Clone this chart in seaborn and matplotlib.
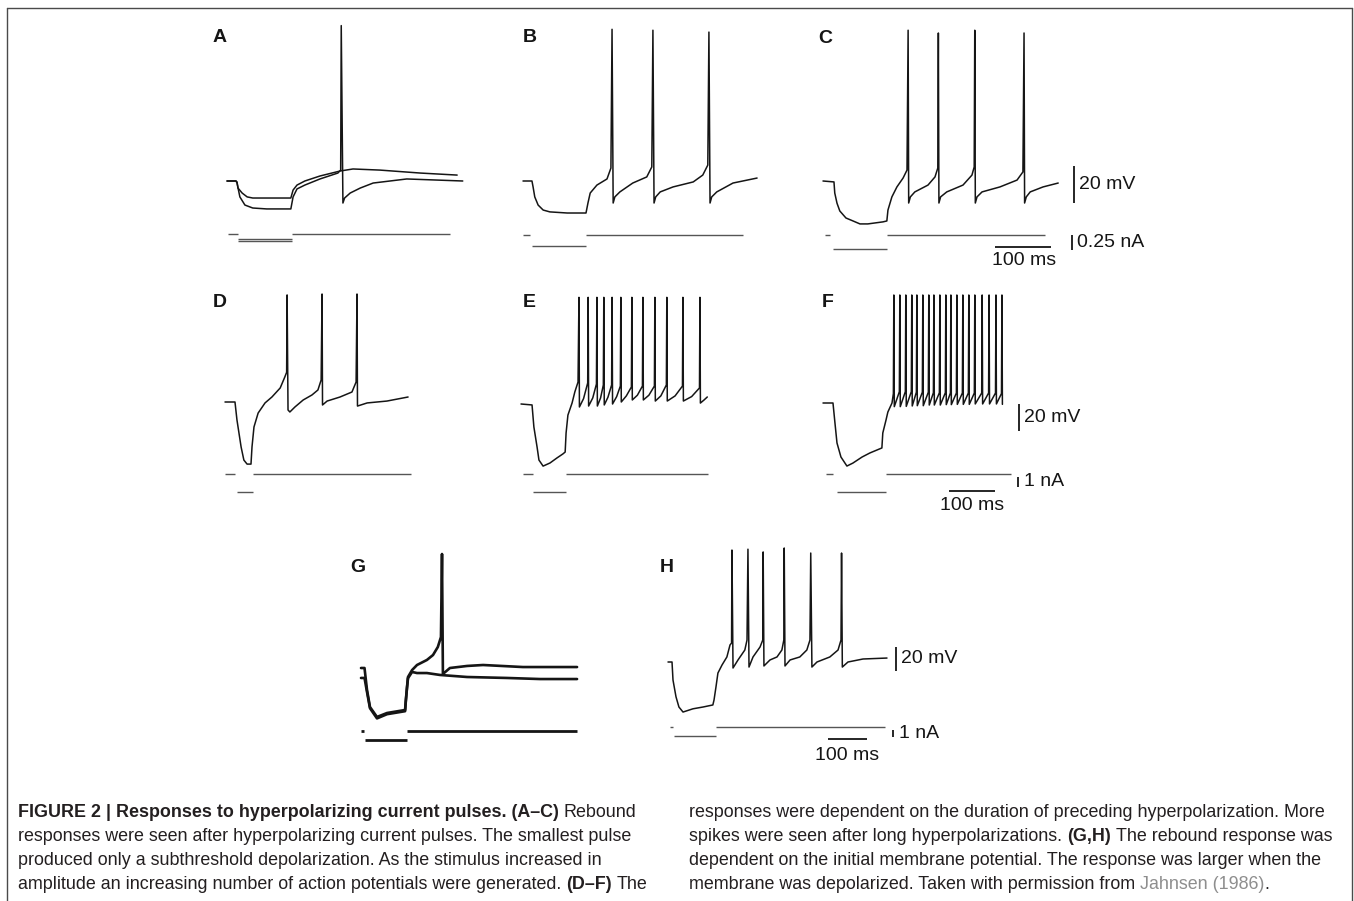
import matplotlib
matplotlib.use("Agg")
import matplotlib.pyplot as plt
from matplotlib.lines import Line2D
import seaborn as sns

# ---------------------------------------------------------------------------
# Recorded traces read off the figure.
# time in ms from the start of the sweep, voltage in mV relative to rest,
# current in nA relative to the holding level.
# ---------------------------------------------------------------------------
A1_T = [0, 16, 17.9, 19.6, 27, 36, 46, 114, 118, 125, 139, 166, 202, 225,
        273, 345, 411]
A1_V = [0, 0, -0.5, -3.8, -6.5, -8.6, -9.2, -9.2, -4.9, -2.2, 0, 2.7, 5.4,
        6.5, 5.9, 4.3, 3.2]
A2_T = [0, 16, 17.9, 23, 32, 46, 71, 114, 118, 125, 139, 166, 198, 203, 204,
        207, 210, 220, 238, 261, 321, 421]
A2_V = [0, 0, -1.1, -8.6, -13, -14.6, -15.1, -15.1, -8.6, -4.3, -2.2, 1.1,
        4.3, 5.9, 84, -11.9, -9.2, -6.5, -3.8, -1.1, 1.1, 0]

B_T = [0, 16, 18, 21, 27, 36, 48, 79, 112.5, 116, 120, 132, 150, 157, 159,
       161, 164, 173, 196, 221, 230, 232, 234, 237, 245, 268, 304, 321, 330,
       332, 334, 337, 346, 375, 418]
B_V = [0, 0, -3.2, -8.6, -13, -15.7, -16.7, -17.3, -17.3, -11.9, -6.5, -2.2,
       1.1, 7.0, 82, -11.9, -8.6, -5.9, -1.1, 2.2, 7.6, 81.5, -11.9, -8.6,
       -5.9, -3.2, -0.5, 3.2, 8.6, 80.5, -11.9, -8.6, -5.9, -1.1, 1.6]

C_T = [0, 19.6, 21, 25, 30, 41, 53.6, 66, 80, 107, 114, 116, 123, 132, 143,
       150, 152, 153, 156, 164, 187.5, 200, 205, 206, 207, 210, 221, 250, 266,
       270, 271, 272, 275, 284, 316, 346.5, 357, 359, 360, 363, 370, 393, 420]
C_V = [0, -0.5, -6.5, -12, -16.2, -20, -21.6, -23.2, -23.2, -22.1, -21.6,
       -15.7, -8.6, -3.2, 1.6, 5.9, 81.5, -11.9, -8.6, -5.9, -2.2, 2.2, 7, 80,
       -11.9, -8.6, -5.9, -2.2, 3.2, 7.6, 81.5, -11.9, -8.6, -5.9, -3.2, 0.5,
       4.9, 80, -11.9, -8.6, -5.9, -3.2, -1.1]

D_T = [0, 21.7, 26, 35, 41, 48, 56.5, 58.7, 63, 72, 87, 102, 120, 130, 134,
       135, 137, 141, 152, 170, 189, 202, 209, 211, 212, 222, 250, 276, 285,
       287, 288, 309, 352, 398]
D_V = [0, 0, -13.3, -33.3, -43, -46, -46, -33.3, -18.5, -8.2, -0.7, 3.7, 10.4,
       18.5, 22, 79.3, -5.9, -7.4, -3.7, 1.5, 5.2, 8.9, 16.3, 80, -2.2, 0.7,
       3.7, 7.4, 14.8, 80, -3, -0.7, 0.7, 3.7]

E_T = [0, 24, 28, 35, 39, 48, 63, 78, 91, 96, 98, 102, 111, 117, 124, 126,
       127, 136, 145, 146,
       147, 156, 164, 165,
       166, 173, 179, 180,
       181, 189, 197, 198,
       199, 208, 216, 217,
       218, 229, 240, 241,
       242, 253, 264, 265,
       266, 278, 290, 291,
       292, 304, 316, 317,
       318, 335, 351, 352,
       353, 371, 388, 389,
       390, 398, 405]
E_V = [0, -0.7, -17, -32, -41.5, -46, -43.7, -40, -37, -35.6, -21.5, -8.2, 0.7,
       8.9, 16.3, 79,
       -2.2, 4, 15.6, 79,
       -1.5, 4.5, 14.8, 79,
       -1.5, 4.5, 14.1, 79,
       -0.7, 5, 14.1, 79,
       0, 5.5, 13.3, 79,
       1.5, 6, 12.6, 79,
       3, 6.5, 13.3, 79,
       3, 6.5, 13.3, 79,
       2.2, 6, 14.1, 79,
       2.2, 6, 13.3, 79,
       2.2, 5.5, 11.9, 79,
       0.7, 3, 5.2]

F_T = [0, 21.7, 26, 30.4, 39, 52, 65, 85, 102, 128, 130, 137, 141, 150, 153,
       154, 155, 166, 167, 168, 179, 180, 181, 192, 193, 194, 203, 204,
       205, 216, 217, 218, 229, 230, 231, 240, 241, 242, 253, 254,
       255, 266, 267, 268, 277, 278, 279, 290, 291, 292, 303, 304,
       305, 316, 317, 318, 329, 330, 331, 345, 346, 347, 360, 361,
       362, 375, 376, 377, 388, 389, 390]
F_V = [0, 0, -14.8, -29.6, -40, -46.7, -44.5, -40, -37, -33.3, -22.2, -12.6,
       -6.7, 0, 7, 80, -2.7, 8.4, 80, -2.7, 8.4, 80, -2.5, 8.4, 80, -2.2, 8,
       80, -2, 8, 80, -2, 8, 80, -1.5, 7.6, 80, -1.5, 7.6, 80,
       -1.5, 7.6, 80, -1.2, 7.4, 80, -1.2, 7.4, 80, -1, 7.4, 80,
       -1, 7.4, 80, -1, 7.4, 80, -0.7, 7.4, 80, -0.7, 7.4, 80,
       -0.7, 7.4, 80, -0.7, 7, 80, -1]

G1_T = [0, 9, 15.4, 23, 41, 66.7, 113, 115, 118, 120.5, 131, 143.6, 169,
        184.6, 197, 205, 207.7, 210, 228, 272, 313, 415, 554]
G1_V = [0, 0, -18.3, -32.5, -40.8, -37.5, -35, -26.7, -15.8, -7.5, -1.7, 2.5,
        6.7, 10.8, 17.5, 25.8, 95, -5, 0, 1.7, 2.5, 0.8, 0.8]
G2_T = [0, 9, 15.4, 23, 41, 66.7, 113, 115, 118, 120.5, 131, 143.6, 169,
        202.6, 272, 374, 459, 554]
G2_V = [-8.3, -8.3, -20, -33.5, -42, -38.5, -36, -27.5, -16.5, -8.5, -3.3,
        -4.2, -4.2, -5.8, -7.5, -8.3, -9.2, -9.2]

H_T = [0, 10.3, 12.8, 20.5, 28, 38.5, 64, 90, 115, 118, 123, 128, 138.5, 151,
       159, 163, 164, 166.7, 179.5, 197, 202.6, 205, 207.7, 218, 236, 243, 244,
       246, 261.5, 279.5, 292, 297, 298, 300, 313, 338, 356, 364, 366, 369,
       382, 415, 436, 443.6, 445, 447, 461.5, 500, 561.5]
H_V = [0, 0, -15, -29, -37.5, -41.7, -39, -37.5, -35.8, -31.7, -20.8, -9.2,
       -2.5, 4.2, 14.2, 15.8, 93.3, -5, 1.7, 10, 18.3, 94, -4.2, 4.2, 12.5,
       18.3, 91.7, -3.3, 1.7, 4.2, 10, 18.3, 95, -3.3, 1.7, 4.2, 10, 18.3,
       90.8, -4.2, 0, 4.2, 10, 18.3, 90.8, -4.2, 0, 2.5, 3.3]

# current monitor: segment start (ms), end (ms), level (nA)
A_I_START = [1.8, 19.6, 19.6, 116]
A_I_END = [19.6, 116, 116, 398]
A_I_LEVEL = [0, -0.09, -0.11, 0]
B_I_START = [0, 16, 112.5]
B_I_END = [12.5, 112.5, 393]
B_I_LEVEL = [0, -0.18, 0]
C_I_START = [3.6, 18, 114]
C_I_END = [12.5, 114, 396]
C_I_LEVEL = [0, -0.23, 0]
D_I_START = [0, 26, 61]
D_I_END = [21.7, 61, 404]
D_I_LEVEL = [0, -1.85, 0]
E_I_START = [4.3, 26, 98]
E_I_END = [26, 98, 406.5]
E_I_LEVEL = [0, -1.85, 0]
F_I_START = [6.5, 30.4, 137]
F_I_END = [21.7, 137, 409]
F_I_LEVEL = [0, -1.85, 0]
G_I_START = [0, 10, 118]
G_I_END = [7.7, 118, 554]
G_I_LEVEL = [0, -1.3, 0]
H_I_START = [5, 15.4, 123]
H_I_END = [12.8, 123, 556]
H_I_LEVEL = [0, -1.3, 0]

PANELS = ["A", "B", "C", "D", "E", "F", "G", "H"]
SCALE_MV = 20
SCALE_MS = 100
SCALE_NA_SMALL = 0.25
SCALE_NA = 1
MV_LABEL = "20 mV"
MS_LABEL = "100 ms"
NA_SMALL_LABEL = "0.25 nA"
NA_LABEL = "1 nA"

CAPTION_LEFT = [
    [("FIGURE 2 | Responses to hyperpolarizing current pulses. (A\u2013C)", "b"),
     (" Rebound", "r")],
    [("responses were seen after hyperpolarizing current pulses. The smallest pulse", "r")],
    [("produced only a subthreshold depolarization. As the stimulus increased in", "r")],
    [("amplitude an increasing number of action potentials were generated.", "r"),
     (" (D\u2013F)", "b"), (" The", "r")],
]
CAPTION_RIGHT = [
    [("responses were dependent on the duration of preceding hyperpolarization. More", "r")],
    [("spikes were seen after long hyperpolarizations.", "r"), (" (G,H)", "b"),
     (" The rebound response was", "r")],
    [("dependent on the initial membrane potential. The response was larger when the", "r")],
    [("membrane was depolarized. Taken with permission from", "r"),
     (" Jahnsen (1986)", "g"), (".", "r")],
]

# ---------------------------------------------------------------------------
# layout (pixels of the 1354 x 901 page)
# ---------------------------------------------------------------------------
W, H = 1354, 901
ROW_SCALE = [(0.56, 1.85, 60), (0.46, 1.35, 10), (0.39, 1.2, 7)]  # px/ms, px/mV, px/nA
LAYOUT = {
    "A": dict(box=(200, 20, 480, 270), x0=227, y0=181, yc0=234, row=0, label=(213, 29)),
    "B": dict(box=(500, 20, 780, 270), x0=523, y0=181, yc0=235, row=0, label=(523, 29)),
    "C": dict(box=(800, 20, 1160, 275), x0=823, y0=181, yc0=235, row=0, label=(818, 30)),
    "D": dict(box=(200, 280, 440, 520), x0=225, y0=402, yc0=473.5, row=1, label=(213, 294)),
    "E": dict(box=(500, 280, 740, 520), x0=521, y0=404, yc0=473.5, row=1, label=(523, 294)),
    "F": dict(box=(800, 280, 1100, 520), x0=823, y0=403, yc0=473.5, row=1, label=(822, 294)),
    "G": dict(box=(340, 540, 600, 760), x0=361, y0=668, yc0=731, row=2, label=(350, 559)),
    "H": dict(box=(650, 540, 970, 780), x0=668, y0=662, yc0=727, row=2, label=(660, 559)),
}

TRACES = {
    "A": [(A1_T, A1_V), (A2_T, A2_V)],
    "B": [(B_T, B_V)],
    "C": [(C_T, C_V)],
    "D": [(D_T, D_V)],
    "E": [(E_T, E_V)],
    "F": [(F_T, F_V)],
    "G": [(G1_T, G1_V), (G2_T, G2_V)],
    "H": [(H_T, H_V)],
}
CURRENTS = {
    "A": (A_I_START, A_I_END, A_I_LEVEL),
    "B": (B_I_START, B_I_END, B_I_LEVEL),
    "C": (C_I_START, C_I_END, C_I_LEVEL),
    "D": (D_I_START, D_I_END, D_I_LEVEL),
    "E": (E_I_START, E_I_END, E_I_LEVEL),
    "F": (F_I_START, F_I_END, F_I_LEVEL),
    "G": (G_I_START, G_I_END, G_I_LEVEL),
    "H": (H_I_START, H_I_END, H_I_LEVEL),
}

INK = "#151515"
CURRENT_INK = "#555555"
CAPTION_INK = "#231f20"

sns.set_theme(style="white")
plt.rcParams["font.family"] = ["Liberation Sans", "DejaVu Sans"]

fig = plt.figure(figsize=(W / 100, H / 100), dpi=100)
fig.patch.set_facecolor("white")


def make_panel(name):
    """Voltage axes plus a twin current axes covering the same pixel box."""
    lay = LAYOUT[name]
    L, T, R, B = lay["box"]
    ppms, ppmv, ppna = ROW_SCALE[lay["row"]]
    ax = fig.add_axes([L / W, 1 - B / H, (R - L) / W, (B - T) / H])
    ax.set_xlim((L - lay["x0"]) / ppms, (R - lay["x0"]) / ppms)
    ax.set_ylim((lay["y0"] - B) / ppmv, (lay["y0"] - T) / ppmv)
    axc = ax.twinx()
    axc.set_ylim((lay["yc0"] - B) / ppna, (lay["yc0"] - T) / ppna)
    ax.set_axis_off()
    axc.set_axis_off()
    return ax, axc


axes = {}
for name in PANELS:
    ax, axc = make_panel(name)
    axes[name] = (ax, axc)
    thick = name == "G"
    for t, v in TRACES[name]:
        sns.lineplot(x=t, y=v, ax=ax, color=INK, linewidth=1.9 if thick else 1.1,
                     estimator=None, sort=False)
    s, e, lvl = CURRENTS[name]
    axc.hlines(lvl, s, e, color=INK if thick else CURRENT_INK,
               linewidth=2.0 if thick else 1.0)
    lx, ly = LAYOUT[name]["label"]
    fig.text(lx / W, 1 - ly / H, name, fontsize=14, fontweight="bold",
             color=INK, ha="left", va="top")

# scale bars
bar_kw = dict(color=INK, linewidth=1.3)
txt_kw = dict(fontsize=14, color=INK)

ax, axc = axes["C"]
ax.vlines(448, -11.9, -11.9 + SCALE_MV, **bar_kw)
ax.text(458, -2, MV_LABEL, ha="left", va="center", **txt_kw)
axc.vlines(445, -SCALE_NA_SMALL, 0, **bar_kw)
axc.text(453, -0.125, NA_SMALL_LABEL, ha="left", va="center", **txt_kw)
axc.hlines(-0.2, 307, 307 + SCALE_MS, **bar_kw)
axc.text(359, -0.42, MS_LABEL, ha="center", va="center", **txt_kw)

ax, axc = axes["F"]
ax.vlines(426, -20.7, -20.7 + SCALE_MV, **bar_kw)
ax.text(437, -10.4, MV_LABEL, ha="left", va="center", **txt_kw)
axc.vlines(424, -1.35, -1.35 + SCALE_NA, **bar_kw)
axc.text(437, -0.85, NA_LABEL, ha="left", va="center", **txt_kw)
axc.hlines(-1.75, 274, 274 + SCALE_MS, **bar_kw)
axc.text(324, -3.15, MS_LABEL, ha="center", va="center", **txt_kw)

ax, axc = axes["H"]
ax.vlines(585, -7.5, -7.5 + SCALE_MV, **bar_kw)
ax.text(597, 3.3, MV_LABEL, ha="left", va="center", **txt_kw)
axc.vlines(577, -1.43, -1.43 + SCALE_NA, **bar_kw)
axc.text(592, -0.86, NA_LABEL, ha="left", va="center", **txt_kw)
axc.hlines(-1.71, 410, 410 + SCALE_MS, **bar_kw)
axc.text(460, -4.0, MS_LABEL, ha="center", va="center", **txt_kw)

# page frame (open at the bottom)
frame_kw = dict(color="#4a4a4a", linewidth=1.0, transform=fig.transFigure)
fig.add_artist(Line2D([7 / W, 7 / W], [0, 1 - 8 / H], **frame_kw))
fig.add_artist(Line2D([7 / W, 1352 / W], [1 - 8 / H, 1 - 8 / H], **frame_kw))
fig.add_artist(Line2D([1352 / W, 1352 / W], [0, 1 - 8 / H], **frame_kw))

# caption
renderer = fig.canvas.get_renderer()


def text_width(s, size, weight="normal"):
    t = fig.text(0, 0, s, fontsize=size, fontweight=weight)
    w = t.get_window_extent(renderer).width
    t.remove()
    return w


# size the caption so that the third right-hand line spans the column
probe = CAPTION_RIGHT[2][0][0]
cap_size = 12 * 634 / text_width(probe, 12)
space_w = text_width("x x", cap_size) - text_width("xx", cap_size)


def draw_line(x_px, y_px, runs):
    x = x_px
    for s, style in runs:
        if s.startswith(" "):
            x += space_w
            s = s[1:]
        kw = dict(fontsize=cap_size, color=CAPTION_INK, ha="left", va="baseline")
        if style == "b":
            kw["fontweight"] = "bold"
        if style == "g":
            kw["color"] = "#8e8e8e"
        t = fig.text(x / W, 1 - y_px / H, s, **kw)
        x += t.get_window_extent(renderer).width


for i, runs in enumerate(CAPTION_LEFT):
    draw_line(18, 817 + 24 * i, runs)
for i, runs in enumerate(CAPTION_RIGHT):
    draw_line(689, 817 + 24 * i, runs)

fig.savefig("out.png", dpi=100, facecolor="white")
